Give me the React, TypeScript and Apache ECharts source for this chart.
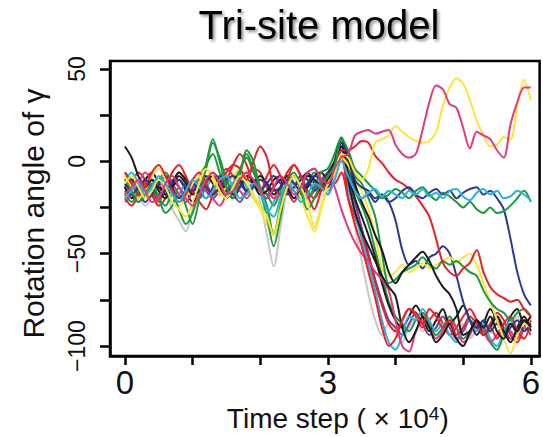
import React, { useEffect, useRef } from 'react';
import * as echarts from 'echarts';

const timeSteps = [
  0, 0.1, 0.2, 0.3, 0.4, 0.5, 0.6, 0.7, 0.8, 0.9,
  1.0, 1.1, 1.2, 1.3, 1.4, 1.5, 1.6, 1.7, 1.8, 1.9,
  2.0, 2.1, 2.2, 2.3, 2.4, 2.5, 2.6, 2.7, 2.8, 2.9,
  3.0, 3.1, 3.2, 3.3, 3.4, 3.5, 3.6, 3.7, 3.8, 3.9,
  4.0, 4.1, 4.2, 4.3, 4.4, 4.5, 4.6, 4.7, 4.8, 4.9,
  5.0, 5.1, 5.2, 5.3, 5.4, 5.5, 5.6, 5.7, 5.8, 5.9, 6.0,
];

const xTickValues = [0, 1, 2, 3, 4, 5, 6];
const xLabelValues = [0, 3, 6];
const yTickValues = [-100, -75, -50, -25, 0, 25, 50];
const yLabelValues = [-100, -50, 0, 50];

const redFast = [-20,-24,-18,-12,-16,-22,-14,-6,-2,-8,-16,-20,-12,-8,-14,-10,-2,4,-2,-12,-16,-8,-2,-8,-16,-22,-14,-6,-4,-10,-18,-8,4,
  -20,-34,-46,-60,-74,-90,-100,-96,-86,-80,-82,-88,-80,-84,-90,-86,-94,-90,-84,-88,-94,-90,-96,-88,-84,-92,-96,-86];
const cyanFast = [-10,-6,-12,-18,-14,-10,-16,-22,-18,-12,-16,-20,-14,-10,-14,-18,-12,-8,-14,-20,-24,-28,-22,-14,-10,-16,-20,-14,-10,-12,-16,-10,2,
  -14,-28,-42,-56,-70,-86,-98,-102,-94,-84,-86,-80,-86,-92,-88,-94,-98,-90,-86,-92,-88,-96,-100,-92,-86,-94,-90,-94];
const magentaFast = [-22,-18,-12,-6,-10,-14,-8,-12,-18,-22,-16,-10,-14,-20,-24,-18,-12,-16,-20,-14,-10,-14,-20,-18,-12,-8,-14,-20,-16,-10,-6,-14,-26,
  -36,-44,-50,-54,-60,-64,-70,-86,-100,-103,-92,-86,-90,-96,-92,-86,-90,-98,-94,-86,-92,-98,-94,-88,-92,-96,-90,-94];
const blackFast = [-12,-16,-20,-16,-10,-14,-18,-12,-6,-10,-16,-14,-8,-12,-18,-14,-8,-10,-16,-12,-8,-12,-18,-14,-8,-12,-18,-14,-8,-6,-10,-2,10,
  -10,-27,-38,-46,-54,-62,-68,-73,-90,-98,-92,-84,-90,-98,-94,-88,-96,-100,-92,-86,-94,-90,-84,-92,-98,-90,-84,-92];
const greyFast = [-16,-12,-18,-24,-20,-14,-18,-26,-32,-38,-26,-16,-12,-18,-14,-10,-16,-20,-14,-10,-22,-40,-57,-36,-16,-12,-18,-14,-10,-16,-12,-6,6,
  -18,-36,-54,-72,-86,-94,-88,-92,-98,-90,-85,-92,-89,-95,-90,-84,-93,-88,-96,-91,-86,-93,-87,-95,-89,-84,-92,-88];
const blackFast2 = [-14,-20,-16,-10,-6,-12,-18,-14,-10,-16,-22,-18,-12,-6,-10,-16,-20,-14,-8,-10,-16,-20,-14,-10,-16,-14,-10,-6,-12,-16,-10,-4,8,
  -6,-20,-30,-40,-52,-66,-78,-86,-90,-84,-78,-84,-92,-86,-80,-88,-84,-78,-86,-94,-88,-80,-86,-92,-84,-80,-88,-84];
const greenFast = [-6,-10,-14,-20,-16,-10,-6,-12,-18,-22,-16,-8,-2,4,-6,-16,-12,-4,2,-6,-14,-18,-24,-16,-8,-12,-18,-12,-6,-10,-14,-6,8,
  -2,-16,-24,-34,-48,-62,-76,-84,-88,-92,-86,-82,-88,-94,-90,-84,-90,-96,-92,-86,-90,-98,-102,-94,-88,-92,-86,-90];
const redFast2 = [-18,-12,-6,-10,-18,-24,-20,-12,-6,-10,-16,-22,-26,-18,-10,-4,-8,-14,-10,-4,-6,-14,-20,-14,-6,-2,-8,-16,-20,-14,-8,-12,-6,
  -20,-30,-40,-52,-66,-78,-88,-92,-86,-80,-84,-90,-86,-82,-88,-94,-90,-84,-80,-86,-92,-88,-82,-86,-94,-98,-90,-84];
const purpleFast = [-14,-18,-22,-18,-14,-20,-16,-10,-14,-18,-14,-10,-16,-20,-16,-12,-18,-22,-16,-12,-14,-18,-14,-10,-16,-20,-16,-12,-14,-10,-12,-6,6,
  -8,-22,-36,-50,-64,-76,-86,-90,-94,-88,-82,-88,-94,-90,-84,-90,-96,-92,-86,-90,-94,-88,-84,-90,-96,-92,-86,-90];
const navyMid = [-14,-10,-16,-22,-18,-12,-8,-14,-20,-16,-12,-16,-20,-14,-8,-12,-18,-14,-10,-12,-16,-12,-8,-12,-18,-14,-8,-10,-16,-12,-6,0,12,
  0,-14,-20,-18,-22,-18,-22,-32,-48,-56,-54,-58,-52,-50,-46,-50,-62,-76,-86,-90,-86,-92,-88,-94,-90,-86,-92,-88];
const greenMid = [-18,-22,-16,-10,-14,-20,-24,-18,-26,-34,-28,-16,-4,10,2,-10,-16,-6,4,-4,-14,-24,-40,-24,-10,-6,-14,-20,-14,-6,-4,4,13,
  4,-8,-12,-20,-30,-50,-66,-64,-60,-58,-56,-52,-56,-58,-54,-56,-54,-57,-60,-62,-70,-76,-80,-82,-86,-82,-80,-84];
const yellowMid = [-8,-14,-20,-16,-8,-4,-10,-18,-24,-20,-12,-8,-4,-10,-18,-14,-8,-4,-10,-20,-26,-34,-38,-22,-10,-12,-20,-30,-38,-26,-14,-8,2,
  -2,-10,-16,-26,-40,-58,-62,-60,-56,-60,-58,-55,-58,-56,-54,-52,-55,-52,-50,-56,-66,-76,-86,-96,-104,-94,-88,-90];
const blackMid = [8,2,-8,-14,-10,-16,-20,-14,-8,-12,-18,-16,-10,-8,-14,-20,-16,-10,-6,-12,-18,-16,-10,-8,-14,-20,-14,-8,-10,-14,-8,0,12,
  2,-12,-22,-30,-40,-48,-60,-66,-60,-56,-52,-49,-54,-62,-68,-72,-80,-94,-92,-86,-90,-84,-92,-96,-88,-92,-86,-90];
const redSlow = [-6,-12,-18,-14,-6,-2,-8,-16,-22,-18,-10,-6,-12,-18,-14,-6,-2,-4,-10,0,8,2,-14,-18,-10,-2,-8,-18,-26,-16,-8,-4,6,
  6,8,11,10,3,-1,-6,-10,-12,-15,-19,-24,-30,-42,-55,-60,-62,-58,-55,-48,-60,-68,-72,-74,-76,-75,-80,-84];
const navyLate = [-16,-18,-14,-10,-14,-18,-16,-12,-10,-14,-16,-12,-14,-18,-14,-10,-8,-12,-16,-14,-10,-12,-16,-14,-10,-12,-16,-12,-8,-10,-14,-4,10,
  4,-10,-14,-16,-20,-18,-22,-20,-16,-14,-18,-20,-17,-15,-18,-16,-20,-17,-15,-14,-18,-16,-20,-26,-42,-60,-72,-78];
const greenFlat = [-10,-16,-22,-18,-12,-20,-28,-24,-14,-24,-34,-20,-2,12,0,-14,-20,-8,6,0,-16,-30,-46,-30,-12,-8,-16,-26,-20,-12,-8,-2,12,
  6,-4,-8,-12,-16,-20,-18,-15,-17,-20,-16,-14,-18,-21,-17,-19,-22,-25,-22,-26,-28,-25,-28,-27,-24,-20,-16,-22];
const cyanFlat = [-20,-16,-12,-18,-14,-8,-12,-18,-22,-16,-10,-14,-20,-16,-10,-8,-14,-20,-18,-12,-16,-26,-30,-20,-12,-16,-22,-18,-12,-14,-18,-10,0,
  -8,-16,-20,-17,-15,-19,-16,-18,-20,-16,-18,-15,-19,-17,-20,-16,-15,-19,-21,-17,-15,-18,-16,-20,-19,-16,-18,-21];
const yellowUp = [-12,-8,-14,-20,-16,-10,-14,-22,-26,-30,-22,-12,-4,-8,-16,-20,-14,-8,-12,-18,-24,-30,-40,-26,-14,-8,-14,-22,-36,-24,-12,-6,4,
  2,-6,-10,-4,10,12,14,19,16,13,11,10,11,16,30,40,45,42,33,22,14,8,9,13,12,30,44,33];
const magentaUp = [-18,-14,-10,-16,-22,-20,-12,-8,-14,-20,-24,-18,-10,-6,-12,-18,-16,-10,-6,-10,-16,-20,-14,-8,-12,-18,-14,-6,-4,-10,-12,-4,2,
  4,14,16,17,15,16,17,9,4,2,4,17,32,41,39,31,29,18,7,16,14,12,6,2,20,32,40,40];

const RED = '#e52229';
const MAGENTA = '#e23a7e';
const YELLOW = '#fde43a';
const GREEN = '#1c9a3f';
const CYAN = '#27b4e4';
const NAVY = '#2b3990';
const BLACK = '#1c1c1c';
const GREY = '#c8c8c8';
const PURPLE = '#7d3b94';

const seriesList: [number[], string][] = [
  [greyFast, GREY],
  [purpleFast, PURPLE],
  [redFast2, RED],
  [greenFast, GREEN],
  [blackFast2, BLACK],
  [cyanFast, CYAN],
  [magentaFast, MAGENTA],
  [blackFast, BLACK],
  [redFast, RED],
  [navyMid, NAVY],
  [yellowMid, YELLOW],
  [greenMid, GREEN],
  [blackMid, BLACK],
  [redSlow, RED],
  [navyLate, NAVY],
  [greenFlat, GREEN],
  [cyanFlat, CYAN],
  [yellowUp, YELLOW],
  [magentaUp, MAGENTA],
];

const FONT = 'Liberation Sans, Arial, sans-serif';

export default function App() {
  const ref = useRef<HTMLDivElement>(null);
  useEffect(() => {
    if (!ref.current) return;
    const chart = echarts.init(ref.current, null, { renderer: 'svg' });
    const option: any = {
      animation: false,
      backgroundColor: '#ffffff',
      title: {
        text: 'Tri-site model',
        left: 319,
        top: 5,
        padding: 0,
        textAlign: 'center',
        textStyle: {
          fontFamily: FONT,
          fontSize: 40,
          fontWeight: 'normal',
          color: '#000',
          textShadowColor: 'rgba(0,0,0,0.45)',
          textShadowBlur: 3,
          textShadowOffsetX: 2,
          textShadowOffsetY: 2,
        },
      },
      grid: {
        left: 110,
        right: 2,
        top: 61,
        bottom: 80,
        show: true,
        borderColor: '#000',
        borderWidth: 2.5,
        backgroundColor: 'transparent',
      },
      xAxis: {
        type: 'value',
        min: -0.22,
        max: 6.13,
        name: '{a|Time step ( × 10}{b|4}{a|)}',
        nameLocation: 'middle',
        nameGap: 48,
        nameTextStyle: {
          padding: [0, 0, 0, 26],
          rich: {
            a: { fontFamily: FONT, fontSize: 28, color: '#111' },
            b: { fontFamily: FONT, fontSize: 19, color: '#111', verticalAlign: 'top' },
          },
        },
        axisLine: { show: true, onZero: false, lineStyle: { color: '#000', width: 2.5 } },
        axisTick: {
          show: true,
          inside: false,
          length: 9,
          customValues: xTickValues,
          lineStyle: { color: '#000', width: 2.5 },
        },
        axisLabel: {
          customValues: xLabelValues,
          fontFamily: FONT,
          fontSize: 33,
          color: '#111',
          margin: 10,
        },
        splitLine: { show: false },
      },
      yAxis: {
        type: 'value',
        min: -105.4,
        max: 54.3,
        name: 'Rotation angle of γ',
        nameLocation: 'middle',
        nameGap: 62,
        nameTextStyle: { fontFamily: FONT, fontSize: 30, color: '#111', padding: [0, 10, 0, 0] },
        axisLine: { show: true, onZero: false, lineStyle: { color: '#000', width: 2.5 } },
        axisTick: {
          show: true,
          inside: false,
          length: 10,
          customValues: yTickValues,
          lineStyle: { color: '#000', width: 2.5 },
        },
        axisLabel: {
          customValues: yLabelValues,
          rotate: 90,
          fontFamily: FONT,
          fontSize: 23,
          color: '#111',
          margin: 22,
          formatter: (v: number) => String(v).replace('-', '\u2212'),
        },
        splitLine: { show: false },
      },
      series: seriesList.map(([vals, color]) => ({
        type: 'line',
        data: vals.map((v, i) => [timeSteps[i], v]),
        showSymbol: false,
        smooth: 0.3,
        lineStyle: { color, width: 2 },
        itemStyle: { color },
        clip: true,
      })),
    };
    chart.setOption(option);
    return () => chart.dispose();
  }, []);
  return (
    <div
      ref={ref}
      style={{ position: 'fixed', left: 0, top: 0, width: 543, height: 437, background: '#fff' }}
    />
  );
}
